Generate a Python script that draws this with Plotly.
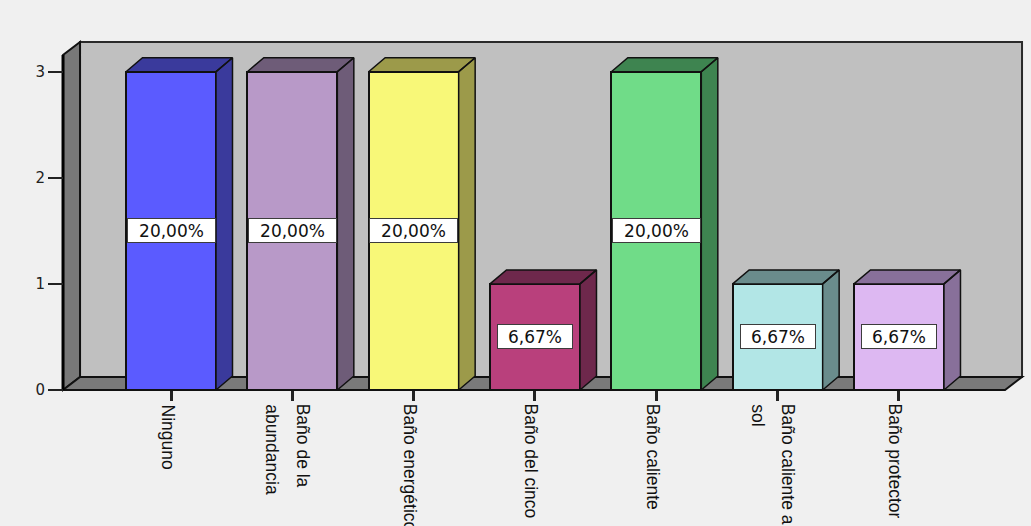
import plotly.graph_objects as go

# ---- data -------------------------------------------------------------
categories = [
    ["Ninguno"],
    ["Baño de la", "abundancia"],
    ["Baño energético"],
    ["Baño del cinco"],
    ["Baño caliente"],
    ["Baño caliente a", "sol"],
    ["Baño protector"],
]
counts = [3, 3, 3, 1, 3, 1, 1]
y_ticks = [0, 1, 2, 3]

face_colors = ["#5B5BFF", "#B899C8", "#F8F878", "#B9407C", "#70DC88", "#B2E6E6", "#DDB8F2"]
shade_colors = ["#3A3A9C", "#6E5C78", "#9C9A4A", "#6E284C", "#3E8450", "#6A8C8C", "#88709A"]

# ---- geometry (pixel scale of the category / count axes) --------------
W, H = 1031, 526
PX_PER_X, X0_PX = 121.33, 171.0      # category spacing, first category centre
PX_PER_Y, Y0_PX = 106.1, 390.0       # pixels per count, baseline
x_range = [(0 - X0_PX) / PX_PER_X, (W - X0_PX) / PX_PER_X]
y_range = [(Y0_PX - H) / PX_PER_Y, Y0_PX / PX_PER_Y]

BAR_W = 90 / PX_PER_X
BAR_DX, BAR_DY = 16.5 / PX_PER_X, 14 / PX_PER_Y      # bar depth
WALL_DX, WALL_DY = 17 / PX_PER_X, 13 / PX_PER_Y      # chart box depth
FLOOR_L, FLOOR_R = -0.89, 6.874
WALL_TOP = 3.157

fig = go.Figure()

# ---- chart box: back wall, left wall, floor ---------------------------
shapes = [
    dict(type="rect", xref="x", yref="y", layer="below",
         x0=FLOOR_L + WALL_DX, x1=FLOOR_R + WALL_DX, y0=WALL_DY, y1=WALL_TOP + WALL_DY,
         fillcolor="#C0C0C0", line=dict(color="#2A2A2A", width=2)),
    dict(type="path", xref="x", yref="y", layer="below",
         path=(f"M{FLOOR_L},0 L{FLOOR_L + WALL_DX},{WALL_DY} "
               f"L{FLOOR_L + WALL_DX},{WALL_TOP + WALL_DY} L{FLOOR_L},{WALL_TOP} Z"),
         fillcolor="#787878", line=dict(color="#111111", width=2)),
    dict(type="path", xref="x", yref="y", layer="below",
         path=(f"M{FLOOR_L},0 L{FLOOR_R},0 L{FLOOR_R + WALL_DX},{WALL_DY} "
               f"L{FLOOR_L + WALL_DX},{WALL_DY} Z"),
         fillcolor="#7A7A7A", line=dict(color="#111111", width=2)),
    dict(type="line", xref="x", yref="y", layer="below",
         x0=FLOOR_L, x1=FLOOR_L, y0=0, y1=WALL_TOP,
         line=dict(color="#000000", width=3)),
]

# ---- bars: side and top faces, then the front face --------------------
for i, v in enumerate(counts):
    xl, xr = i - BAR_W / 2, i + BAR_W / 2
    px = [xr, xr + BAR_DX, xr + BAR_DX, xr, xr, None,
          xl, xl + BAR_DX, xr + BAR_DX, xr, xl]
    py = [0, BAR_DY, v + BAR_DY, v, 0, None,
          v, v + BAR_DY, v + BAR_DY, v, v]
    fig.add_trace(go.Scatter(x=px, y=py, mode="lines", fill="toself",
                             fillcolor=shade_colors[i],
                             line=dict(color="#111111", width=1.5),
                             hoverinfo="skip", showlegend=False))

fig.add_trace(go.Bar(x=list(range(len(counts))), y=counts, width=BAR_W,
                     marker=dict(color=face_colors, line=dict(color="#111111", width=2)),
                     showlegend=False))

# ---- percentage labels ------------------------------------------------
total = sum(counts)
annotations = []
for i, v in enumerate(counts):
    txt = f"{v / total * 100:.2f}%".replace(".", ",")
    annotations.append(dict(
        x=i, y=v / 2, xref="x", yref="y", text=txt, showarrow=False,
        font=dict(family="DejaVu Sans", size=17, color="#111111"),
        bgcolor="#FFFFFF", bordercolor="#3C3C3C", borderwidth=1, borderpad=2,
        width=13 * len(txt) + 5, height=19))

# ---- category labels, rotated ----------------------------------------
label_y = (Y0_PX - 402) / PX_PER_Y
for i, lines in enumerate(categories):
    shifts = [-3] if len(lines) == 1 else [11, -20]
    for line, sh in zip(lines, shifts):
        annotations.append(dict(
            x=i, y=label_y, xref="x", yref="y", text=line, showarrow=False,
            textangle=90, xanchor="center", yanchor="top", xshift=sh,
            font=dict(family="Liberation Sans", size=17.5, color="#111111")))

fig.update_layout(
    width=W, height=H, autosize=False,
    margin=dict(l=0, r=0, t=0, b=0, pad=0),
    paper_bgcolor="#F0F0F0", plot_bgcolor="#F0F0F0",
    shapes=shapes, annotations=annotations, bargap=0,
    xaxis=dict(range=x_range, domain=[0, 1], anchor="free", position=(H - Y0_PX) / H,
               tickmode="array", tickvals=list(range(len(counts))), showticklabels=False,
               ticks="outside", ticklen=10, tickwidth=3, tickcolor="#222222",
               showgrid=False, zeroline=False, showline=False, fixedrange=True),
    yaxis=dict(range=y_range, domain=[0, 1], anchor="free", position=63 / W,
               tickmode="array", tickvals=y_ticks, ticktext=[str(t) for t in y_ticks],
               ticks="outside", ticklen=15, tickwidth=2, tickcolor="#222222",
               tickfont=dict(family="DejaVu Sans", size=15, color="#222222"),
               showgrid=False, zeroline=False, showline=False, fixedrange=True),
)

fig.write_html("out.html")
